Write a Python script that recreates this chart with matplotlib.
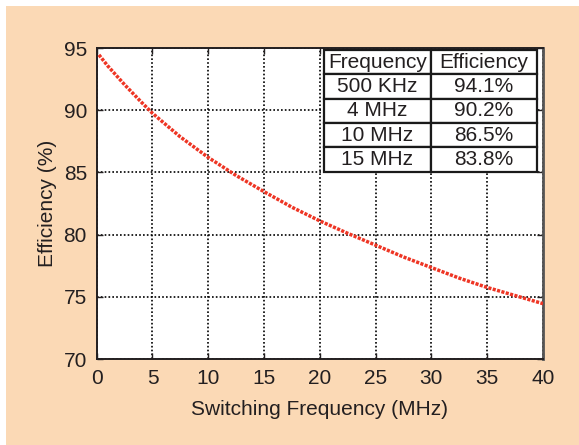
import matplotlib.pyplot as plt
from matplotlib.patches import Rectangle

plt.rcParams['font.family'] = ['Liberation Sans', 'DejaVu Sans']

# efficiency vs switching frequency
freq_mhz = [0.2, 1, 2.5, 4, 5, 7.5, 10, 12.5, 15, 17.5, 20, 22.5, 25, 27.5, 30,
            32.5, 35, 37.5, 40]
eff_pct = [94.45, 93.55, 92.05, 90.65, 89.75, 87.85, 86.2, 84.75, 83.45, 82.2,
           81.1, 80.1, 79.15, 78.2, 77.35, 76.5, 75.75, 75.1, 74.45]

table_cols = ['Frequency', 'Efficiency']
table_freq = ['500 KHz', '4 MHz', '10 MHz', '15 MHz']
table_eff = [94.1, 90.2, 86.5, 83.8]

x_ticks = [0, 5, 10, 15, 20, 25, 30, 35, 40]
y_ticks = [70, 75, 80, 85, 90, 95]

W, H = 579, 445
fig = plt.figure(figsize=(W/100, H/100), dpi=100, facecolor='white')
# peach panel behind the plot
fig.patches.append(Rectangle((6/W, 0), 1, (H-6)/H, transform=fig.transFigure,
                             facecolor='#FBD9B5', edgecolor='none', zorder=-10))

ax = fig.add_axes([96.7/W, 1-359/H, 446.3/W, 311/H])
ax.set_facecolor('white')

ax.plot(freq_mhz, eff_pct, color='#EE3524', lw=2.5, linestyle=(0, (0.9, 0.4)),
        zorder=3)

ax.set_xlim(0, 40)
ax.set_ylim(70, 95)
ax.set_xticks(x_ticks)
ax.set_yticks(y_ticks)
ax.grid(True, color='black', linestyle=(0, (1, 1.3)), lw=1.2)
ax.tick_params(direction='in', length=4, width=1, labelsize=15, pad=7,
               top=True, right=True, colors='#231F20')
for s in ax.spines.values():
    s.set_linewidth(1.4)
    s.set_color('#231F20')
ax.spines['right'].set_color('#555555')
ax.spines['right'].set_linewidth(2)

ax.set_xlabel('Switching Frequency (MHz)', fontsize=15, color='#231F20', labelpad=9)
ax.set_ylabel('Efficiency (%)', fontsize=15, color='#231F20', labelpad=5)

cells = [[f, f'{e:.1f}%'] for f, e in zip(table_freq, table_eff)]
tb = ax.table(cellText=cells, colLabels=table_cols, cellLoc='center',
              bbox=[0.51, 0.602, 0.476, 0.392], zorder=5)
tb.auto_set_font_size(False)
tb.set_fontsize(15)
for (r, c), cell in tb.get_celld().items():
    cell.set_linewidth(1.6)
    cell.set_edgecolor('#1a1a1a')
    cell.set_facecolor('white')
    cell.get_text().set_color('#231F20')

fig.savefig('out.png', dpi=100, facecolor=fig.get_facecolor())
